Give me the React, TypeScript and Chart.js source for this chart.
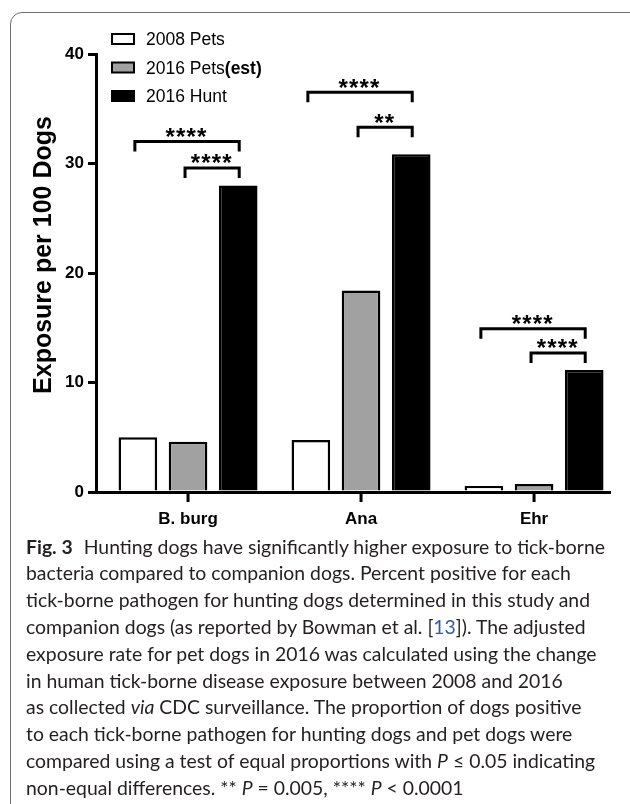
import React, { useEffect, useRef } from "react";
import { Chart, registerables } from "chart.js";

Chart.register(...registerables);

// ---------- data ----------
const categories = ["B. burg", "Ana", "Ehr"];
const seriesLabels = ["2008 Pets", "2016 Pets(est)", "2016 Hunt"];
const pets2008 = [5.0, 4.75, 0.55];
const pets2016est = [4.6, 18.4, 0.73];
const hunt2016 = [28.0, 30.85, 11.15];
const seriesColors = ["#ffffff", "#a1a1a1", "#000000"];
const yTicks = [0, 10, 20, 30, 40];
const yTitle = "Exposure per 100 Dogs";

// significance brackets
const bracketCategory = [0, 0, 1, 1, 2, 2];
const bracketFrom = [0, 1, 0, 1, 0, 1];
const bracketTo = [2, 2, 2, 2, 2, 2];
const bracketValue = [32.0, 29.6, 36.5, 33.3, 14.9, 12.7];
const bracketLabel = ["****", "****", "****", "**", "****", "****"];

const FONT = '"Liberation Sans", Arial, Helvetica, sans-serif';

const annotationPlugin = {
  id: "annotations",
  afterDraw(chart: any) {
    const ctx = chart.ctx;
    const yScale = chart.scales.y;
    const xScale = chart.scales.x;
    ctx.save();
    // x category tick marks
    ctx.fillStyle = "#000";
    const base = chart.chartArea.bottom;
    categories.forEach((_c: string, i: number) => {
      const px = xScale.getPixelForValue(i);
      ctx.fillRect(px - 1.5, base, 3, 10);
    });
    // brackets
    ctx.strokeStyle = "#000";
    ctx.lineWidth = 3;
    ctx.lineCap = "butt";
    ctx.lineJoin = "miter";
    for (let i = 0; i < bracketCategory.length; i++) {
      const c = bracketCategory[i];
      const x1 = chart.getDatasetMeta(bracketFrom[i]).data[c].x - 3;
      const x2 = chart.getDatasetMeta(bracketTo[i]).data[c].x + 1;
      const y = yScale.getPixelForValue(bracketValue[i]);
      const leg = 10;
      ctx.beginPath();
      ctx.moveTo(x1, y + leg);
      ctx.lineTo(x1, y);
      ctx.lineTo(x2, y);
      ctx.lineTo(x2, y + leg);
      ctx.stroke();
      const label = bracketLabel[i];
      const pitch = 10.5;
      const cx = (x1 + x2) / 2 - 1;
      ctx.font = "bold 24px " + FONT;
      ctx.textAlign = "center";
      ctx.textBaseline = "alphabetic";
      const n = label.length;
      for (let k = 0; k < n; k++) {
        const sx = cx + (k - (n - 1) / 2) * pitch;
        ctx.fillText(label[k], sx, y - 10 + 13.5);
      }
    }
    // legend
    const rows = [39, 67.5, 96];
    chart.data.datasets.forEach((ds: any, i: number) => {
      const yc = rows[i];
      ctx.fillStyle = ds.backgroundColor;
      ctx.fillRect(112, yc - 5, 22, 10);
      ctx.strokeStyle = "#000";
      ctx.lineWidth = 2;
      ctx.strokeRect(112, yc - 5, 22, 10);
      ctx.fillStyle = "#000";
      ctx.textAlign = "left";
      ctx.textBaseline = "middle";
      const label: string = ds.label;
      const p = label.indexOf("(");
      const main = p >= 0 ? label.slice(0, p) : label;
      const extra = p >= 0 ? label.slice(p) : "";
      ctx.font = "17.5px " + FONT;
      ctx.fillText(main, 146, yc + 1.5);
      const w = ctx.measureText(main).width;
      if (extra) {
        ctx.font = "bold 17.5px " + FONT;
        ctx.fillText(extra, 146 + w, yc + 1.5);
      }
    });
    // y title
    ctx.translate(44, 255);
    ctx.rotate(-Math.PI / 2);
    ctx.font = "bold 25px " + FONT;
    ctx.textAlign = "center";
    ctx.textBaseline = "middle";
    ctx.fillStyle = "#000";
    ctx.fillText(yTitle, 0, 0);
    ctx.restore();
  },
};

function BarChart() {
  const ref = useRef<HTMLCanvasElement | null>(null);
  useEffect(() => {
    if (!ref.current) return;
    const seriesValues = [pets2008, pets2016est, hunt2016];
    const chart = new Chart(ref.current, {
      type: "bar",
      data: {
        datasets: seriesValues.map((vals, s) => ({
          label: seriesLabels[s],
          data: categories.map((_, i) => ({ x: i, y: vals[i] })),
          backgroundColor: seriesColors[s],
          borderColor: "#000",
          borderWidth: 2.5,
          categoryPercentage: 0.87,
          barPercentage: 0.77,
        })),
      },
      options: {
        animation: false,
        responsive: false,
        devicePixelRatio: 1,
        layout: { padding: { top: 54, right: 20, left: 0, bottom: 8 } },
        plugins: {
          legend: { display: false },
          tooltip: { enabled: false },
          title: { display: false },
        },
        scales: {
          x: {
            type: "linear",
            offset: false,
            min: -0.532,
            max: 2.439,
            afterBuildTicks: (scale: any) => {
              scale.ticks = categories.map((_, i) => ({ value: i }));
            },
            afterFit: (scale: any) => {
              scale.height = 40;
            },
            ticks: {
              autoSkip: false,
              maxRotation: 0,
              padding: 9,
              color: "#000",
              font: { family: FONT, size: 17, weight: "bold" },
              callback: (v: any) => categories[v as number] ?? "",
            },
            grid: {
              display: false,
              offset: false,
            },
            border: { display: true, width: 3, color: "#000" },
          },
          y: {
            type: "linear",
            min: 0,
            max: 40,
            afterBuildTicks: (scale: any) => {
              scale.ticks = yTicks.map((v) => ({ value: v }));
            },
            afterFit: (scale: any) => {
              scale.width = 96;
            },
            ticks: {
              padding: 4,
              color: "#000",
              font: { family: FONT, size: 17, weight: "bold" },
            },
            grid: {
              display: true,
              offset: false,
              drawOnChartArea: false,
              drawTicks: true,
              tickLength: 8,
              lineWidth: 3,
              color: "#000",
            },
            border: { display: true, width: 3, color: "#000" },
          },
        },
      },
      plugins: [annotationPlugin],
    } as any);
    return () => chart.destroy();
  }, []);
  return (
    <canvas
      ref={ref}
      width={630}
      height={540}
      style={{ position: "absolute", left: 0, top: 0, width: 630, height: 540 }}
    />
  );
}

const captionStyle: React.CSSProperties = {
  position: "absolute",
  left: 26,
  top: 533.6,
  fontFamily: 'Lato, "Open Sans", sans-serif',
  fontSize: 19.4,
  lineHeight: "26.8px",
  color: "#231f20",
  whiteSpace: "nowrap",
};

export default function App() {
  return (
    <div
      style={{
        position: "fixed",
        left: 0,
        top: 0,
        width: 630,
        height: 804,
        overflow: "hidden",
        background: "#fff",
      }}
    >
      <div
        style={{
          position: "absolute",
          left: 10,
          top: 12,
          width: 660,
          height: 860,
          border: "1px solid #6e6e6e",
          borderRadius: 12,
          boxSizing: "border-box",
        }}
      />
      <BarChart />
      <div style={captionStyle}>
        <div>
          <b>Fig. 3</b>
          <span style={{ display: "inline-block", width: 11 }} />
          Hunting dogs have significantly higher exposure to tick-borne
        </div>
        <div>bacteria compared to companion dogs. Percent positive for each</div>
        <div>tick-borne pathogen for hunting dogs determined in this study and</div>
        <div>
          companion dogs (as reported by Bowman et al. [
          <span style={{ color: "#2a5db0" }}>13</span>]). The adjusted
        </div>
        <div>exposure rate for pet dogs in 2016 was calculated using the change</div>
        <div>in human tick-borne disease exposure between 2008 and 2016</div>
        <div>
          as collected <i>via</i> CDC surveillance. The proportion of dogs positive
        </div>
        <div>to each tick-borne pathogen for hunting dogs and pet dogs were</div>
        <div>
          compared using a test of equal proportions with <i>P</i> ≤ 0.05 indicating
        </div>
        <div>
          non-equal differences. ** <i>P</i> = 0.005, **** <i>P</i> &lt; 0.0001
        </div>
      </div>
    </div>
  );
}
